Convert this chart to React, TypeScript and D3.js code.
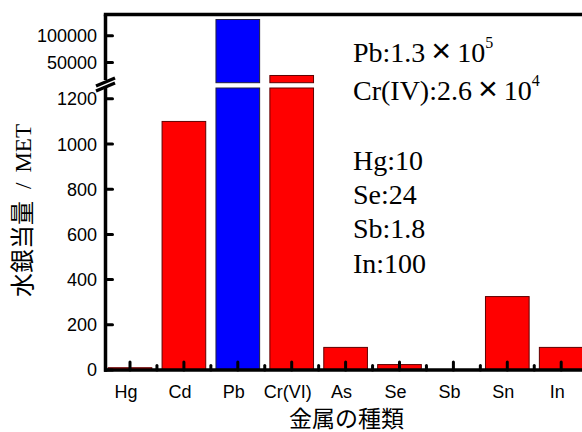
import React from "react";
import * as d3 from "d3";

const categories = ["Hg", "Cd", "Pb", "Cr(VI)", "As", "Se", "Sb", "Sn", "In"];
const values = [10, 1100, 130000, 26000, 100, 24, 1.8, 325, 100];
const lowerTicks = [0, 200, 400, 600, 800, 1000, 1200];
const upperTicks = [50000, 100000];
const notes = ["Hg:10", "Se:24", "Sb:1.8", "In:100"];

const W = 582;
const H = 432;
const AX = 105.5; // y axis x
const BASE = 370; // x axis y
const TOP = 14.5;

const SANS = "'Liberation Sans', Arial, sans-serif";
const SERIF = "'Liberation Serif', 'Times New Roman', serif";
const CJK = "'Noto Sans CJK JP', sans-serif";

export default function App() {
  const x = d3
    .scaleBand<string>()
    .domain(categories)
    .range([103.05, 588.15])
    .paddingInner(0.19)
    .paddingOuter(0.095);
  const step = x.step();
  const bw = x.bandwidth();
  const cx = (c: string) => (x(c) as number) + bw / 2;

  const lowMax = 1248;
  const yLow = d3.scaleLinear().domain([0, lowMax]).range([BASE, 88]);
  const yUp = d3.scaleLinear().domain([12600, 139300]).range([82.7, TOP]);

  const bars: React.ReactNode[] = [];
  categories.forEach((c, i) => {
    const v = values[i];
    const fill = c === "Pb" ? "#0000ff" : "#ff0000";
    const stroke = c === "Pb" ? "#202040" : "#600000";
    const bx = x(c) as number;
    if (v <= lowMax) {
      bars.push(
        <rect key={c} x={bx} y={yLow(v)} width={bw} height={BASE - yLow(v)} fill={fill} stroke={stroke} strokeWidth={1} />
      );
    } else {
      bars.push(
        <rect key={c + "l"} x={bx} y={yLow(lowMax)} width={bw} height={BASE - yLow(lowMax)} fill={fill} stroke={stroke} strokeWidth={1} />
      );
      bars.push(
        <rect key={c + "u"} x={bx} y={yUp(v)} width={bw} height={yUp.range()[0] - yUp(v)} fill={fill} stroke={stroke} strokeWidth={1} />
      );
    }
  });

  return (
    <svg width={W} height={H} style={{ position: "absolute", left: 0, top: 0, background: "#fff" }}>
      <rect x={0} y={0} width={W} height={H} fill="#fff" />
      {bars}
      {/* x axis */}
      <line x1={AX - 1.5} x2={W} y1={BASE} y2={BASE} stroke="#000" strokeWidth={3.5} />
      {categories.map((c) => (
        <line key={"mt" + c} x1={cx(c)} x2={cx(c)} y1={BASE} y2={BASE - 8} stroke="#000" strokeWidth={3} strokeLinecap="round" />
      ))}
      {categories.map((c) => (
        <line key={"nt" + c} x1={cx(c) + step / 2} x2={cx(c) + step / 2} y1={BASE} y2={BASE - 4.5} stroke="#000" strokeWidth={3} strokeLinecap="round" />
      ))}
      {categories.map((c) => (
        <text key={"xl" + c} x={cx(c) - 4} y={398} textAnchor="middle" fontFamily={SANS} fontSize={18} fill="#000">
          {c}
        </text>
      ))}
      {/* top border */}
      <line x1={AX - 1.7} x2={W} y1={TOP} y2={TOP} stroke="#000" strokeWidth={3.5} />
      {/* y axis segments */}
      <line x1={AX} x2={AX} y1={TOP} y2={80} stroke="#000" strokeWidth={3.5} />
      <line x1={AX} x2={AX} y1={86.5} y2={BASE + 1.7} stroke="#000" strokeWidth={3.5} />
      {/* break marks */}
      <line x1={96} y1={86} x2={115} y2={78} stroke="#000" strokeWidth={3.2} />
      <line x1={96} y1={91} x2={115} y2={83} stroke="#000" strokeWidth={3.2} />
      {/* y ticks */}
      {lowerTicks.map((t) => (
        <g key={"yl" + t}>
          <line x1={AX} x2={AX + 7} y1={yLow(t)} y2={yLow(t)} stroke="#000" strokeWidth={3} strokeLinecap="round" />
          <text x={97} y={yLow(t)} dy="0.36em" textAnchor="end" fontFamily={SANS} fontSize={18} fill="#000">
            {t}
          </text>
        </g>
      ))}
      {upperTicks.map((t) => (
        <g key={"yu" + t}>
          <line x1={AX} x2={AX + 7} y1={yUp(t)} y2={yUp(t)} stroke="#000" strokeWidth={3} strokeLinecap="round" />
          <text x={97} y={yUp(t)} dy="0.36em" textAnchor="end" fontFamily={SANS} fontSize={18} fill="#000">
            {t}
          </text>
        </g>
      ))}
      {/* axis titles */}
      <text transform="translate(31, 297) rotate(-90)" fill="#000">
        <tspan fontFamily={CJK} fontSize={24}>水銀当量</tspan>
        <tspan fontFamily={SERIF} fontSize={23} dx={12}>/</tspan>
        <tspan fontFamily={SERIF} fontSize={23} dx={10}>MET</tspan>
      </text>
      <text x={346.5} y={427} textAnchor="middle" fontFamily={CJK} fontSize={23} fill="#000">
        金属の種類
      </text>
      {/* annotations */}
      <text x={353} y={62} fontFamily={SERIF} fontSize={28} fill="#000">
        <tspan>Pb:1.3</tspan>
        <tspan fontFamily={SANS} fontSize={34} dx={6}>×</tspan>
        <tspan dx={6}>10</tspan>
        <tspan fontSize={16} dy={-14}>5</tspan>
      </text>
      <text x={353} y={100} fontFamily={SERIF} fontSize={28} fill="#000">
        <tspan>Cr(IV):2.6</tspan>
        <tspan fontFamily={SANS} fontSize={34} dx={6}>×</tspan>
        <tspan dx={6}>10</tspan>
        <tspan fontSize={16} dy={-14}>4</tspan>
      </text>
      {notes.map((n, i) => (
        <text key={n} x={353} y={169.5 + i * 34.4} fontFamily={SERIF} fontSize={28} fill="#000">
          {n}
        </text>
      ))}
    </svg>
  );
}
